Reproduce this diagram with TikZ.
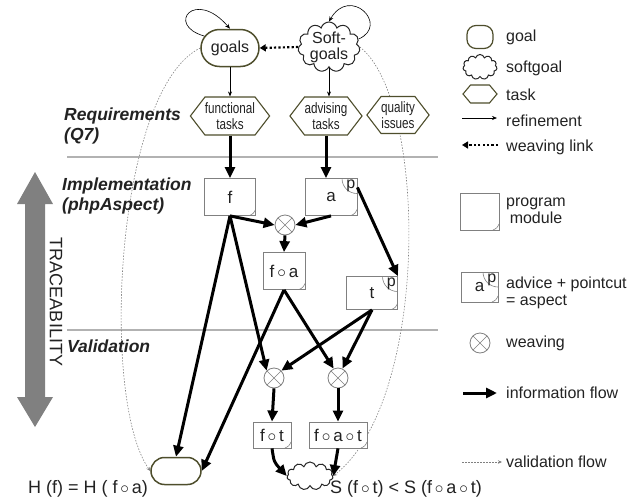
\documentclass[tikz,border=0pt]{standalone}
\usepackage{fontspec}
\usepackage{graphicx}
\setmainfont{Liberation Sans}
\usetikzlibrary{arrows.meta,shapes.misc,shapes.symbols,backgrounds,positioning}

\definecolor{goalline}{HTML}{4E4E2C}
\definecolor{darktext}{HTML}{222222}
\definecolor{tracegray}{HTML}{808080}

\newcommand{\narrowtxt}[1]{\scalebox{.78}[1]{#1}}

\begin{document}
\begin{tikzpicture}[x=1pt, y=-1pt,
    every node/.style={font=\fontsize{16}{17}\selectfont, text=darktext, inner sep=1pt},
    goal/.style={rounded rectangle, draw=goalline, line width=1.5pt, fill=white},
    softgoal/.style={cloud, cloud puffs=11, cloud ignores aspect, draw=black!85, line width=1pt, fill=white, inner sep=0pt},
    task/.style={signal, signal to=east and west, signal pointer angle=105, draw=goalline, line width=1.1pt, fill=white, align=center, inner xsep=0pt, font=\fontsize{15}{16}\selectfont},
    module/.style={rectangle, draw=gray, line width=.8pt, fill=white, font=\fontsize{17}{18}\selectfont,
      path picture={\draw[gray, line width=.6pt] ([xshift=-6pt]path picture bounding box.south east) .. controls ([xshift=-2pt,yshift=2pt]path picture bounding box.south east) .. ([yshift=6pt]path picture bounding box.south east);}},
    aspectmod/.style={module,
      path picture={\draw[gray, line width=.6pt] ([xshift=-6pt]path picture bounding box.south east) .. controls ([xshift=-2pt,yshift=2pt]path picture bounding box.south east) .. ([yshift=6pt]path picture bounding box.south east);
        \draw[gray, line width=.6pt] (path picture bounding box.north east) circle[radius=15pt];}},
    pmark/.style={anchor=north east, inner sep=2pt, font=\fontsize{16}{16}\selectfont},
    weave/.style={circle, draw=gray, line width=.8pt, fill=white, minimum size=20pt, inner sep=0pt,
      path picture={\draw[gray, line width=.6pt] (path picture bounding box.north west) -- (path picture bounding box.south east) (path picture bounding box.north east) -- (path picture bounding box.south west);}},
    flow/.style={draw=black, line width=3pt, -{Triangle[length=11pt,width=10pt]}},
    refine/.style={draw=black, line width=.6pt, -{Stealth[length=5pt,width=4pt]}},
    weavelink/.style={draw=black, line width=2.2pt, dash pattern=on 2.2pt off 2.2pt, -{Triangle[length=6pt,width=7pt]}},
    valid/.style={draw=gray, line width=.6pt, dash pattern=on 1.5pt off 1.5pt, -{Stealth[length=4pt,width=3.5pt]}},
    phase/.style={anchor=west, align=left, font=\bfseries\itshape\fontsize{17.5}{20}\selectfont},
    legendtext/.style={anchor=west, align=left}
  ]
  \useasboundingbox (0,0) rectangle (641,504);

  \node[goal, minimum width=60pt, minimum height=37pt] (goals) at (230,48) {goals};
  \node[softgoal, minimum width=62pt, minimum height=50pt,
    label={[name=softtxt, align=center, font=\fontsize{16}{16}\selectfont]center:Soft-\\goals}] (soft) at (329,47) {};
  \node[task, minimum width=66pt, minimum height=38pt] (ftask) at (230,116) {\narrowtxt{functional}\\\narrowtxt{tasks}};
  \node[task, minimum width=60pt, minimum height=38pt] (atask) at (326,116) {\narrowtxt{advising}\\\narrowtxt{tasks}};
  \node[task, minimum width=62pt, minimum height=37pt] (qtask) at (398,115) {\narrowtxt{quality}\\\narrowtxt{issues}};

  \node[phase] (req) at (63,126) {Requirements\\(Q7)};
  \node[phase] (impl) at (61,196) {Implementation\\(phpAspect)};
  \node[phase] (val) at (66,346) {Validation};

  \fill[tracegray] (35,172) -- (53,204) -- (45,204) -- (45,397) -- (53,397) -- (35,427)
    -- (17,397) -- (25,397) -- (25,204) -- (17,204) -- cycle;
  \node[rotate=-90, font=\fontsize{18}{18}\selectfont] (trace) at (56,302) {TRACEABILITY};

  \node[module, minimum width=51pt, minimum height=37pt] (fmod) at (230,197) {f};
  \node[aspectmod, minimum width=52pt, minimum height=37pt,
    label={[name=amodp, pmark]north east:p}] (amod) at (331,197) {a};
  \node[weave] (w1) at (285,225) {};
  \node[module, minimum width=42pt, minimum height=37pt] (famod) at (284,271) {f$\,\circ\,$a};
  \node[aspectmod, minimum width=51pt, minimum height=33pt,
    label={[name=tmodp, pmark]north east:p}] (tmod) at (372,293) {t};
  \node[weave] (w2) at (274,378) {};
  \node[weave] (w3) at (338,378) {};
  \node[module, minimum width=38pt, minimum height=26pt] (ftmod) at (272,435) {f$\,\circ\,$t};
  \node[module, minimum width=58pt, minimum height=26pt] (fatmod) at (338,435) {f$\,\circ\,$a$\,\circ\,$t};
  \node[goal, minimum width=52pt, minimum height=27pt] (hgoal) at (176,471) {};
  \node[softgoal, minimum width=46pt, minimum height=28pt] (ssoft) at (310,476) {};
  \node[font=\fontsize{18}{18}\selectfont] (hrel) at (88,489) {H (f) = H ( f$\,\circ\,$a)};
  \node[font=\fontsize{18}{18}\selectfont] (srel) at (406,489) {S (f$\,\circ\,$t) < S (f$\,\circ\,$a$\,\circ\,$t)};

  \begin{pgfonlayer}{background}
    \draw[gray!60, line width=1.2pt] (67,157) -- (438,157);
    \draw[gray!60, line width=1.2pt] (67,330) -- (438,330);
    \draw[valid] (goals.west) .. controls (115,90) and (100,400) .. (hgoal.west);
    \draw[valid] (soft.east) .. controls (428,100) and (430,400) .. (ssoft.east);
  \end{pgfonlayer}

  \draw[refine] (goals.155) .. controls (165,25) and (195,-12) .. (goals.north);
  \draw[refine] (soft.15) .. controls (390,25) and (350,-15) .. (soft.north);
  \draw[weavelink] (soft.west) -- (goals.east);
  \draw[refine] (goals.south) -- (ftask.north);
  \draw[refine] (soft.south) -- (soft.south |- atask.north);

  \draw[flow] (ftask.south) -- (fmod.north);
  \draw[flow] (atask.south) -- (atask.south |- amod.north);
  \draw[flow] (fmod.south) -- (w1.west);
  \draw[flow] (amod.south) -- (w1.east);
  \draw[flow] (w1.south) -- (famod.north);
  \draw[flow] (amod.20) -- (tmod.north east);
  \draw[flow] (fmod.south) -- (hgoal.north);
  \draw[flow] (fmod.south) -- (w2.north west);
  \draw[flow] (famod.south) -- (hgoal.east);
  \draw[flow] (famod.south) -- (w3.115);
  \draw[flow] (tmod.south) -- (w2.north east);
  \draw[flow] (tmod.south) -- (w3.65);
  \draw[flow] (w2.south) -- (ftmod.north);
  \draw[flow] (w3.south) -- (fatmod.north);
  \draw[flow] (ftmod.south) .. controls (274,462) .. (ssoft.west);
  \draw[flow] (fatmod.south) -- (ssoft.east);

  \node[rectangle, rounded corners=9pt, draw=goalline, line width=1.2pt, fill=white, minimum width=26pt, minimum height=23pt] (lgoal) at (480,37) {};
  \node[legendtext] (lgoaltxt) at (505,37) {goal};
  \node[softgoal, minimum width=34pt, minimum height=25pt] (lsoft) at (480,67) {};
  \node[legendtext] (lsofttxt) at (505,68) {softgoal};
  \node[task, signal pointer angle=100, minimum width=34pt, minimum height=18pt] (ltask) at (480,94) {};
  \node[legendtext] (ltasktxt) at (505,95) {task};
  \coordinate (lref1) at (462,118);
  \coordinate (lref2) at (497,118);
  \draw[refine] (lref1) -- (lref2);
  \node[legendtext] (lreftxt) at (505,121) {refinement};
  \coordinate (lweave1) at (462,145);
  \coordinate (lweave2) at (498,145);
  \draw[weavelink] (lweave2) -- (lweave1);
  \node[legendtext] (lweavetxt) at (505,147) {weaving link};
  \node[module, minimum width=39pt, minimum height=37pt] (lmod) at (479.5,211.5) {};
  \node[legendtext, align=center] (lmodtxt) at (505,211) {program\\module};
  \node[aspectmod, minimum width=37pt, minimum height=30pt,
    label={[name=laspp, pmark]north east:p}] (lasp) at (479.5,287) {a\hspace{13pt}};
  \node[legendtext] (lasptxt) at (505,293) {advice + pointcut\\= aspect};
  \node[weave] (lweave) at (480,343) {};
  \node[legendtext] (lweavingtxt) at (505,343) {weaving};
  \coordinate (linfo1) at (463,393);
  \coordinate (linfo2) at (497,393);
  \draw[flow] (linfo1) -- (linfo2);
  \node[legendtext] (linfotxt) at (505,393) {information flow};
  \coordinate (lval1) at (462,462);
  \coordinate (lval2) at (502,462);
  \draw[valid] (lval1) -- (lval2);
  \node[legendtext] (lvaltxt) at (505,462) {validation flow};
\end{tikzpicture}
\end{document}
